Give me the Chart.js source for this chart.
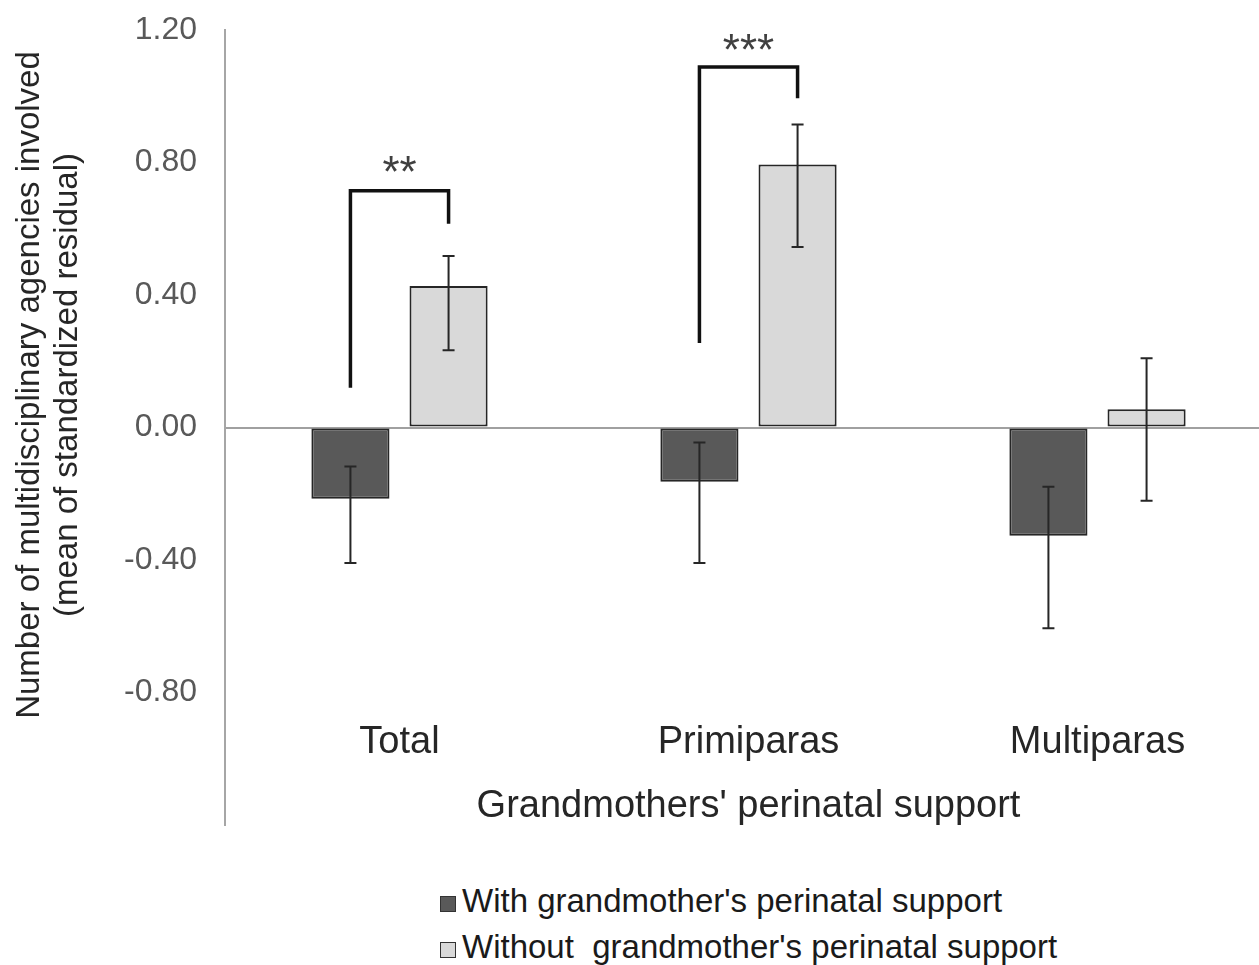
<!DOCTYPE html>
<html>
<head>
  <title>Grandmothers' perinatal support</title>
  <script src="https://cdn.jsdelivr.net/npm/chart.js"></script>
  <style>
    body { margin: 0; background: #fff; overflow: hidden; width: 1259px; height: 965px; }
    #wrap { position: absolute; left: 0; top: 0; width: 1272px; height: 860px; }
    #legend { position: absolute; left: 440px; top: 878px; font-family: "Liberation Sans", Arial, sans-serif; font-size: 33px; color: #1a1a1a; }
    .row { height: 46px; line-height: 46px; white-space: pre; }
    .box { display: inline-block; width: 14px; height: 14px; border: 1.5px solid #333; margin-right: 6px; vertical-align: 0px; }
  </style>
</head>
<body>
  <div id="wrap"><canvas id="myChart"></canvas></div>
  <div id="legend"></div>

  <script>
    // categorias y valores (media del residuo estandarizado)
    var categories = ['Total', 'Primiparas', 'Multiparas'];
    var seriesNames = ["With grandmother's perinatal support", "Without  grandmother's perinatal support"];
    var withSupport = [-0.215, -0.164, -0.327];
    var withoutSupport = [0.427, 0.794, 0.055];

    // barras de error (limite superior / inferior)
    var withErrHigh = [-0.118, -0.045, -0.179];
    var withErrLow = [-0.409, -0.409, -0.606];
    var withoutErrHigh = [0.518, 0.915, 0.209];
    var withoutErrLow = [0.233, 0.545, -0.221];

    // corchetes de significancia
    var sigLabels = ['**', '***'];
    var bracketLeftEnd = [0.12, 0.255];
    var bracketTop = [0.715, 1.088];
    var bracketRightEnd = [0.615, 0.994];
    var sigLabelY = [0.79, 1.158];

    var yTicks = [-1.2, -0.8, -0.4, 0, 0.4, 0.8, 1.2];
    var yTitle = ['Number of multidisciplinary agencies involved', '(mean of standardized residual)'];

    var colors = ['#595959', '#d9d9d9'];
    var font = '"Liberation Sans", Arial, sans-serif';

    // plugin para barras de error, corchetes y titulo del eje y
    var extrasPlugin = {
      id: 'extras',
      afterDatasetsDraw: function(chart) {
        var ctx = chart.ctx;
        var y = chart.scales.y;
        var errs = [[withErrHigh, withErrLow], [withoutErrHigh, withoutErrLow]];
        ctx.save();
        ctx.strokeStyle = '#262626';
        ctx.lineWidth = 2;
        for (var d = 0; d < 2; d++) {
          var meta = chart.getDatasetMeta(d);
          meta.data.forEach(function(bar, i) {
            var hi = y.getPixelForValue(errs[d][0][i]);
            var lo = y.getPixelForValue(errs[d][1][i]);
            ctx.beginPath();
            ctx.moveTo(bar.x, hi); ctx.lineTo(bar.x, lo);
            ctx.moveTo(bar.x - 6, hi); ctx.lineTo(bar.x + 6, hi);
            ctx.moveTo(bar.x - 6, lo); ctx.lineTo(bar.x + 6, lo);
            ctx.stroke();
          });
        }
        // corchetes
        ctx.strokeStyle = '#111';
        ctx.lineWidth = 3.5;
        var m0 = chart.getDatasetMeta(0), m1 = chart.getDatasetMeta(1);
        for (var k = 0; k < sigLabels.length; k++) {
          var x0 = m0.data[k].x, x1 = m1.data[k].x;
          ctx.beginPath();
          ctx.moveTo(x0, y.getPixelForValue(bracketLeftEnd[k]));
          ctx.lineTo(x0, y.getPixelForValue(bracketTop[k]));
          ctx.lineTo(x1, y.getPixelForValue(bracketTop[k]));
          ctx.lineTo(x1, y.getPixelForValue(bracketRightEnd[k]));
          ctx.stroke();
          ctx.fillStyle = '#404040';
          ctx.font = '44px ' + font;
          ctx.textAlign = 'center';
          ctx.textBaseline = 'middle';
          ctx.fillText(sigLabels[k], (x0 + x1) / 2, y.getPixelForValue(sigLabelY[k]) + 9);
        }
        // titulo del eje y (dos lineas, rotado)
        ctx.translate(49, 385);
        ctx.rotate(-Math.PI / 2);
        ctx.fillStyle = '#262626';
        ctx.font = '33px ' + font;
        ctx.fillText(yTitle[0], 0, -19);
        ctx.fillText(yTitle[1], 0, 19);
        ctx.restore();
      }
    };

    var ctx = document.getElementById('myChart').getContext('2d');
    var myChart = new Chart(ctx, {
      type: 'bar',
      data: {
        labels: categories,
        datasets: [{
          label: seriesNames[0],
          data: withSupport,
          backgroundColor: colors[0],
          borderColor: '#262626',
          borderWidth: 2,
          borderSkipped: false
        }, {
          label: seriesNames[1],
          data: withoutSupport,
          backgroundColor: colors[1],
          borderColor: '#262626',
          borderWidth: 2,
          borderSkipped: false
        }]
      },
      options: {
        responsive: true,
        maintainAspectRatio: false,
        animation: false,
        datasets: { bar: { categoryPercentage: 0.5624, barPercentage: 0.796 } },
        layout: { padding: { top: 30, bottom: 35, left: 0, right: 0 } },
        plugins: { legend: { display: false }, tooltip: { enabled: false } },
        scales: {
          x: {
            type: 'category',
            position: { y: -0.8 },
            grid: { display: false, drawTicks: false },
            border: { display: false },
            ticks: { color: '#262626', font: { family: font, size: 38 }, padding: 27 },
            title: { display: true, text: "Grandmothers' perinatal support", color: '#262626',
                     font: { family: font, size: 38 }, padding: { top: -8 } }
          },
          y: {
            min: -1.2,
            max: 1.2,
            afterBuildTicks: function(scale) { scale.ticks = yTicks.map(function(v) { return { value: v }; }); },
            afterFit: function(scale) {
              scale.width = 225;
              scale.paddingTop = 0;
              scale.paddingBottom = 0;
            },
            grid: {
              drawTicks: false,
              color: function(c) { return c.tick && Math.abs(c.tick.value) < 1e-6 ? '#a0a0a0' : 'rgba(0,0,0,0)'; },
              lineWidth: 2
            },
            border: { display: true, color: '#a6a6a6', width: 2 },
            ticks: {
              color: '#595959',
              font: { family: font, size: 32 },
              padding: 28,
              callback: function(v) { return v < -1.19 ? '' : v.toFixed(2); }
            }
          }
        }
      },
      plugins: [extrasPlugin]
    });

    // leyenda en HTML
    var legendEl = document.getElementById('legend');
    seriesNames.forEach(function(name, i) {
      var row = document.createElement('div');
      row.className = 'row';
      var box = document.createElement('span');
      box.className = 'box';
      box.style.background = colors[i];
      row.appendChild(box);
      row.appendChild(document.createTextNode(name));
      legendEl.appendChild(row);
    });
  </script>
</body>
</html>
